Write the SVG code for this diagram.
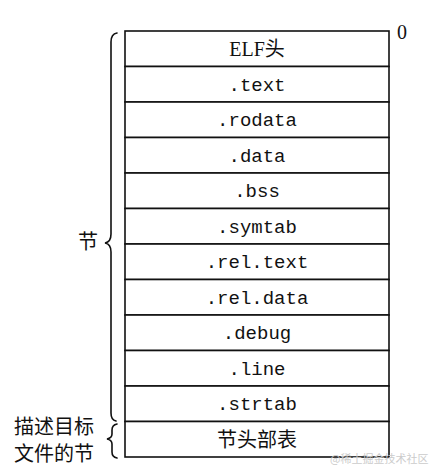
<svg xmlns="http://www.w3.org/2000/svg" width="439" height="475" viewBox="0 0 439 475">
<style>
.box{fill:#fff;stroke:#111;stroke-width:1.6}
.mono{font-family:"Liberation Mono","DejaVu Sans Mono",monospace;font-size:19px;fill:#111;text-anchor:middle}
.cjk{font-family:"Noto Sans CJK SC",sans-serif;font-size:20px;fill:#111}
.serif{font-family:"Liberation Serif","Noto Sans CJK SC",serif;font-size:20px;fill:#111;text-anchor:middle}
.brace{fill:none;stroke:#111;stroke-width:1.6;stroke-linecap:round}
</style>
<rect width="439" height="475" fill="#fff"/>
<g id="n0"><rect class="box" x="125" y="31" width="264" height="35.5"/><text class="serif" x="257" y="56">ELF头</text></g>
<g id="n1"><rect class="box" x="125" y="66.5" width="264" height="35.5"/><text class="mono" x="257" y="90.5">.text</text></g>
<g id="n2"><rect class="box" x="125" y="102" width="264" height="35.5"/><text class="mono" x="257" y="126">.rodata</text></g>
<g id="n3"><rect class="box" x="125" y="137.5" width="264" height="35.5"/><text class="mono" x="257" y="161.5">.data</text></g>
<g id="n4"><rect class="box" x="125" y="173" width="264" height="35.5"/><text class="mono" x="257" y="197">.bss</text></g>
<g id="n5"><rect class="box" x="125" y="208.5" width="264" height="35.5"/><text class="mono" x="257" y="232.5">.symtab</text></g>
<g id="n6"><rect class="box" x="125" y="244" width="264" height="35.5"/><text class="mono" x="257" y="268">.rel.text</text></g>
<g id="n7"><rect class="box" x="125" y="279.5" width="264" height="35.5"/><text class="mono" x="257" y="303.5">.rel.data</text></g>
<g id="n8"><rect class="box" x="125" y="315" width="264" height="35.5"/><text class="mono" x="257" y="339">.debug</text></g>
<g id="n9"><rect class="box" x="125" y="350.5" width="264" height="35.5"/><text class="mono" x="257" y="374.5">.line</text></g>
<g id="n10"><rect class="box" x="125" y="386" width="264" height="35.5"/><text class="mono" x="257" y="410">.strtab</text></g>
<g id="n11"><rect class="box" x="125" y="421.5" width="264" height="35.5"/><text class="cjk" x="257" y="447" text-anchor="middle">节头部表</text></g>
<g id="labels">
<text x="397" y="39" style="font-family:'Liberation Serif',serif;font-size:20px;fill:#111">0</text>
<text class="cjk" x="78" y="249">节</text>
<text class="cjk" x="14" y="434">描述目标</text>
<text class="cjk" x="14" y="461">文件的节</text>
<text x="330" y="463" style="font-family:'Noto Sans CJK SC',sans-serif;font-size:11px;fill:#ccc">@稀土掘金技术社区</text>
</g>
<g id="connectors">
<path class="brace" d="M117,33 Q111,34 111,42 L111,234 Q111,242 105,243 Q111,244 111,252 L111,413 Q111,420 116,421"/>
<path class="brace" d="M117,424 Q112,425 112,430 L112,434 Q112,438 107,439 Q112,440 112,444 L112,452 Q112,457 117,458"/>
</g>
</svg>
